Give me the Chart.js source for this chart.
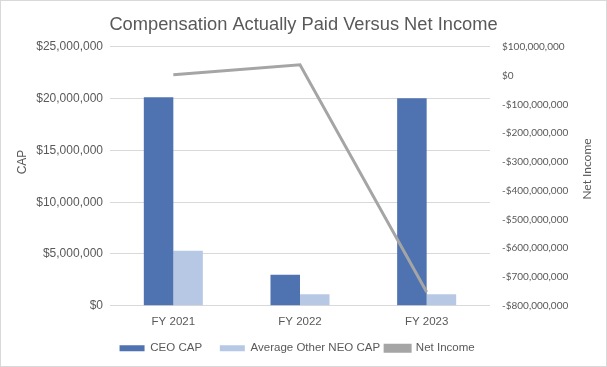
<!DOCTYPE html>
<html>
<head>
<meta charset="utf-8">
<script src="https://cdn.jsdelivr.net/npm/chart.js@4"></script>
<style>
  html, body { margin: 0; padding: 0; background: #fff; }
  #wrap { width: 607px; height: 367px; position: relative; }
</style>
</head>
<body>
<div id="wrap"><canvas id="chart" width="607" height="367"></canvas></div>
<script>
const years     = ['FY 2021', 'FY 2022', 'FY 2023'];
const ceoCap    = [20150000, 3000000, 20050000];
const neoCap    = [5300000, 1100000, 1100000];
const netIncome = [3000000, 38000000, -752000000];

const grey = '#595959';
const sans = '"Liberation Sans", Arial, sans-serif';
const money = v => (v < 0 ? '-$' : '$') + Math.abs(v).toLocaleString('en-US');

// draws outer border and both axis titles (rotated bottom-to-top)
const extras = {
  id: 'extras',
  afterDraw(chart) {
    const ctx = chart.ctx;
    ctx.save();
    ctx.strokeStyle = '#d9d9d9';
    ctx.lineWidth = 1;
    ctx.strokeRect(0.5, 0.5, 606, 366);
    ctx.fillStyle = grey;
    ctx.font = '12px ' + sans;
    ctx.textAlign = 'center';
    ctx.textBaseline = 'middle';
    ctx.translate(23, 162);
    ctx.rotate(-Math.PI / 2);
    ctx.fillText('CAP', 0, 0);
    ctx.restore();
    ctx.save();
    ctx.fillStyle = grey;
    ctx.font = '12px Lato, "Open Sans", sans-serif';
    ctx.textAlign = 'center';
    ctx.textBaseline = 'middle';
    ctx.translate(587, 169);
    ctx.rotate(-Math.PI / 2);
    ctx.fillText('Net Income', 0, 0);
    ctx.restore();
  }
};

new Chart(document.getElementById('chart'), {
  type: 'bar',
  data: {
    labels: years,
    datasets: [
      { label: 'CEO CAP', data: ceoCap, backgroundColor: '#4f72b0', yAxisID: 'y', order: 1,
        categoryPercentage: 0.466, barPercentage: 1 },
      { label: 'Average Other NEO CAP', data: neoCap, backgroundColor: '#b7c8e5', yAxisID: 'y', order: 1,
        categoryPercentage: 0.466, barPercentage: 1 },
      { type: 'line', label: 'Net Income', data: netIncome, borderColor: '#a5a5a5', backgroundColor: '#a5a5a5',
        borderWidth: 3, pointRadius: 0, tension: 0, yAxisID: 'y1', order: 0 }
    ]
  },
  options: {
    responsive: false,
    animation: false,
    layout: { padding: { left: 0, right: 0, top: 0, bottom: 3 } },
    plugins: {
      title: {
        display: true,
        text: 'Compensation Actually Paid Versus Net Income',
        color: grey,
        font: { size: 18.3, family: sans, weight: 'normal' },
        padding: { top: 14, bottom: 11 }
      },
      legend: {
        position: 'bottom',
        labels: {
          sort: (a, b) => a.datasetIndex - b.datasetIndex,
          // extra trailing spaces widen the gap between entries
          generateLabels: chart => Chart.defaults.plugins.legend.labels.generateLabels(chart)
            .map((l, i, all) => ({ ...l, text: i < all.length - 1 ? l.text + '    ' : l.text })),
          boxWidth: 25, boxHeight: 6, padding: 5, color: grey,
          font: { size: 11.5, family: sans }
        }
      },
      tooltip: { enabled: false }
    },
    scales: {
      x: {
        grid: { display: false, drawTicks: false },
        border: { display: false },
        ticks: { color: grey, padding: 9, font: { size: 11.5, family: sans } }
      },
      y: {
        position: 'left',
        min: 0, max: 25000000,
        afterFit: s => { s.width = 110; },
        grid: { color: '#d9d9d9', drawTicks: false },
        border: { display: false },
        ticks: { stepSize: 5000000, padding: 7, color: grey, callback: money,
                 font: { size: 12, family: sans } }
      },
      y1: {
        position: 'right',
        min: -800000000, max: 100000000,
        afterFit: s => { s.width = 117; },
        grid: { display: false, drawTicks: false },
        border: { display: false },
        ticks: { stepSize: 100000000, padding: 12, color: grey, callback: money,
                 font: { size: 10, family: 'Lato, "Open Sans", sans-serif' } }
      }
    }
  },
  plugins: [extras]
});
</script>
</body>
</html>
